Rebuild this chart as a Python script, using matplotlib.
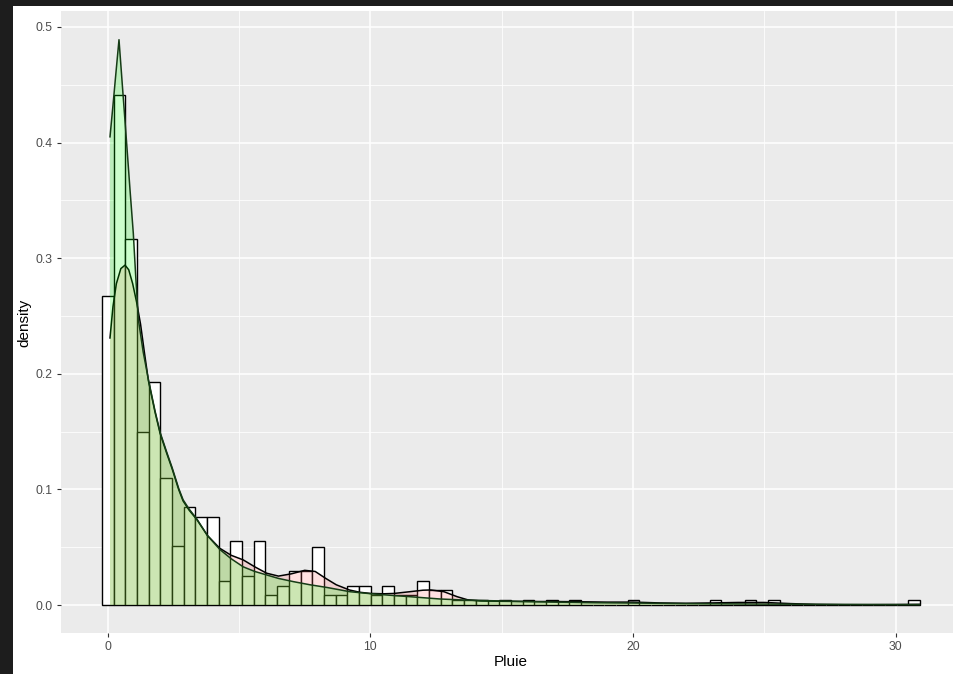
import matplotlib
matplotlib.use('Agg')
import matplotlib.pyplot as plt
from matplotlib.patches import Rectangle

# ---------------- data ----------------
bin_width = 0.4449
hist_density = [
    0.267, 0.441, 0.317, 0.150, 0.193, 0.110, 0.051, 0.085, 0.076, 0.076,
    0.021, 0.055, 0.025, 0.055, 0.0084, 0.0168, 0.0294, 0.0294, 0.0504, 0.0084,
    0.0084, 0.0168, 0.0168, 0.0084, 0.0168, 0.0084, 0.0084, 0.021, 0.0126, 0.0126,
    0.0042, 0.0042, 0.0042, 0.0, 0.0042, 0.0, 0.0042, 0.0, 0.0042, 0.0,
    0.0042, 0.0, 0.0, 0.0, 0.0, 0.0042, 0.0, 0.0, 0.0, 0.0,
    0.0, 0.0, 0.0042, 0.0, 0.0, 0.0042, 0.0, 0.0042, 0.0, 0.0,
    0.0, 0.0, 0.0, 0.0, 0.0, 0.0, 0.0, 0.0, 0.0, 0.0042,
]

pink_x = [0.0875, 0.2, 0.33, 0.5, 0.66, 0.8, 0.95, 1.1, 1.25, 1.4, 1.55, 1.8, 2.0,
          2.25, 2.45, 2.7, 2.87, 3.1, 3.39, 3.8, 4.27, 4.7, 5.16, 5.6, 6.05, 6.5,
          7.0, 7.5, 7.9, 8.3, 8.7, 9.2, 9.6, 10.0, 10.5, 10.9, 11.5, 12.0, 12.3,
          12.8, 13.3, 13.7, 14.2, 15.0, 16.0, 17.0, 18.0, 19.0, 20.0, 21.0, 22.0,
          23.0, 24.0, 25.0, 26.0, 27.0, 28.0, 29.0, 30.0, 30.9]
pink_y = [0.231, 0.258, 0.278, 0.291, 0.294, 0.290, 0.278, 0.262, 0.243, 0.218, 0.194,
          0.167, 0.148, 0.131, 0.118, 0.100, 0.090, 0.082, 0.0740, 0.0600, 0.0490,
          0.0430, 0.0390, 0.0330, 0.0275, 0.0250, 0.0270, 0.0300, 0.0290, 0.0230,
          0.0175, 0.0130, 0.0110, 0.0100, 0.0097, 0.0100, 0.0115, 0.0128, 0.0130,
          0.0115, 0.0072, 0.0045, 0.0035, 0.0032, 0.0030, 0.0030, 0.0028, 0.0025,
          0.0025, 0.0018, 0.0015, 0.0018, 0.0022, 0.0022, 0.0012, 0.0005, 0.0003,
          0.0003, 0.0004, 0.0006]

green_x = [0.0875, 0.2, 0.3, 0.43, 0.55, 0.7, 0.85, 0.975, 1.07, 1.17, 1.35, 1.55,
           1.8, 2.0, 2.25, 2.45, 2.7, 2.87, 3.1, 3.39, 3.8, 4.27, 4.7, 5.16, 5.6,
           6.05, 6.5, 7.07, 7.7, 8.34, 9.22, 10.0, 10.7, 11.5, 12.65, 13.67, 15.0,
           16.0, 17.0, 18.5, 20.0, 22.0, 25.0, 28.0, 30.9]
green_y = [0.405, 0.432, 0.457, 0.489, 0.452, 0.406, 0.359, 0.3215, 0.283, 0.2465,
           0.219, 0.195, 0.168, 0.149, 0.132, 0.119, 0.101, 0.091, 0.083, 0.0745,
           0.0600, 0.0480, 0.0400, 0.0330, 0.0290, 0.0260, 0.0230, 0.0202, 0.0175,
           0.0152, 0.0115, 0.0098, 0.0085, 0.0072, 0.0052, 0.0042, 0.0035, 0.0030,
           0.0025, 0.0020, 0.0017, 0.0012, 0.0008, 0.0005, 0.0003]

x_ticks = [0, 10, 20, 30]
x_minor = [5, 15, 25]
y_ticks = [0.0, 0.1, 0.2, 0.3, 0.4, 0.5]
y_tick_labels = ['0.0', '0.1', '0.2', '0.3', '0.4', '0.5']
y_minor = [0.05, 0.15, 0.25, 0.35, 0.45]
x_title = 'Pluie'
y_title = 'density'

# ---------------- figure ----------------
plt.rcParams['font.family'] = ['Liberation Sans', 'DejaVu Sans']
W, H = 954, 674
fig = plt.figure(figsize=(W / 100, H / 100), dpi=100)
fig.patch.set_facecolor('#1d1d1d')
fig.add_artist(Rectangle((13 / W, 0), 1 - 13 / W, (H - 6) / H, transform=fig.transFigure,
                         facecolor='white', edgecolor='none', zorder=-5))

left_px, right_px, top_px, bottom_px = 61, 961, 11.5, 633.3
ax = fig.add_axes([left_px / W, (H - bottom_px) / H, (right_px - left_px) / W,
                   (bottom_px - top_px) / H])
ax.set_xlim(-1.7777, 32.482)
ax.set_ylim(-0.02448, 0.5134)
ax.set_facecolor('#EBEBEB')
for s in ax.spines.values():
    s.set_visible(False)

ax.set_xticks(x_ticks)
ax.set_xticklabels([str(t) for t in x_ticks])
ax.set_xticks(x_minor, minor=True)
ax.set_yticks(y_ticks)
ax.set_yticklabels(y_tick_labels)
ax.set_yticks(y_minor, minor=True)
ax.set_axisbelow(True)
ax.grid(which='major', color='white', linewidth=1.1)
ax.grid(which='minor', color='white', linewidth=0.55)
ax.tick_params(which='major', length=2.9, width=0.8, color='#333333',
               labelcolor='#4D4D4D', labelsize=8.8)
ax.tick_params(axis='x', which='major', pad=2.4)
ax.tick_params(axis='y', which='major', pad=3.3)
ax.tick_params(which='minor', length=0)

centers = [k * bin_width for k in range(len(hist_density))]
ax.bar(centers, hist_density, width=bin_width, facecolor='white', edgecolor='black',
       linewidth=1.0, zorder=2)

ax.fill_between(pink_x, 0, pink_y, facecolor='#FF6666', alpha=0.2, linewidth=0, zorder=3)
ax.plot(pink_x, pink_y, color='black', linewidth=1.1, zorder=3.1)
ax.fill_between(green_x, 0, green_y, facecolor='#00FF00', alpha=0.2, linewidth=0, zorder=4)
ax.plot(green_x, green_y, color='#163c16', linewidth=1.1, zorder=4.1)

fig.text(511 / W, 1 - 661.5 / H, x_title, ha='center', va='center', fontsize=11, color='black')
fig.text(24 / W, 1 - 322.4 / H, y_title, ha='center', va='center', rotation=90,
         fontsize=11, color='black')

fig.savefig('out.png', dpi=100, facecolor=fig.get_facecolor())
